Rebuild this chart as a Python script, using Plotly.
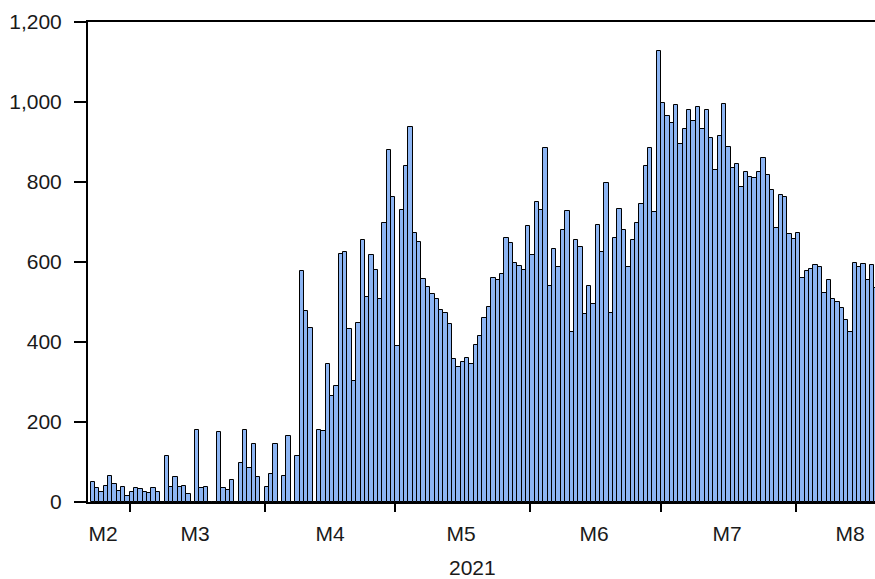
import pandas as pd
import plotly.graph_objects as go

# ---- data: daily values, starting 2021-02-20 ----
start_date = "2021-02-20"
values = [
    51, 36, 24, 41, 65, 46, 27, 38, 15,            # Feb 20-28
    24, 34, 32, 25, 22, 34, 24, 0, 115, 38,        # Mar 1-10
    62, 38, 41, 21, 0, 181, 36, 38, 0, 0,          # Mar 11-20
    174, 36, 29, 56, 0, 97, 179, 86, 146, 63, 0,   # Mar 21-31
    38, 69, 144, 0, 65, 165, 0, 114, 577, 477,     # Apr 1-10
    434, 0, 181, 178, 344, 264, 291, 619, 624, 432,  # Apr 11-20
    303, 447, 654, 512, 617, 579, 507, 698, 879, 762,  # Apr 21-30
    389, 729, 840, 938, 672, 650, 557, 538, 520, 507,  # May 1-10
    479, 472, 445, 358, 337, 351, 360, 345, 393, 414,  # May 11-20
    460, 488, 559, 554, 570, 660, 648, 598, 590, 579, 690,  # May 21-31
    617, 751, 730, 885, 540, 632, 588, 679, 728, 426,  # Jun 1-10
    655, 638, 470, 541, 495, 693, 624, 798, 472, 659,  # Jun 11-20
    733, 679, 587, 655, 698, 745, 839, 884, 724, 1128,  # Jun 21-30
    997, 966, 947, 992, 895, 933, 980, 953, 987, 933,  # Jul 1-10
    980, 910, 829, 915, 995, 887, 836, 845, 788, 824,  # Jul 11-20
    812, 810, 824, 860, 818, 779, 684, 767, 763, 669, 657,  # Jul 21-31
    672, 559, 577, 583, 592, 588, 522, 555, 507, 501,  # Aug 1-10
    486, 455, 424, 597, 588, 594, 555, 593, 534,       # Aug 11-19
]
month_labels = ["M2", "M3", "M4", "M5", "M6", "M7", "M8"]
y_ticks = [0, 200, 400, 600, 800, 1000, 1200]
axis_title = "2021"

# ---- layout helpers ----
dates = pd.date_range(start_date, periods=len(values), freq="D")
x_mid = dates + pd.Timedelta(hours=12)
day0 = pd.Timestamp(start_date)
PX_PER_DAY = 4.355
PLOT_LEFT = 88
FIRST_BAR_PX = 90.5


def px_to_date(px):
    return day0 + pd.Timedelta(days=(px - FIRST_BAR_PX) / PX_PER_DAY)


x_left = px_to_date(PLOT_LEFT)
x_right = px_to_date(875)

boundaries = pd.date_range("2021-03-01", "2021-08-01", freq="MS")
label_px = [103, 195, 330, 461, 594, 727, 850]
label_pos = [px_to_date(p) for p in label_px]

font = dict(family="Liberation Sans, Arial, sans-serif", size=21, color="#1a1a1a")

fig = go.Figure(
    go.Bar(
        x=x_mid,
        y=values,
        width=86400000,
        marker=dict(color="rgb(141,181,243)", line=dict(color="black", width=1)),
        showlegend=False,
    )
)

fig.update_layout(
    width=875,
    height=579,
    margin=dict(l=88, r=0, t=22, b=77, autoexpand=False),
    paper_bgcolor="white",
    plot_bgcolor="white",
    bargap=0,
    font=font,
    xaxis=dict(
        type="date",
        range=[x_left, x_right],
        automargin=False,
        tickmode="array",
        tickvals=label_pos,
        ticktext=month_labels,
        ticks="",
        ticklabelstandoff=12,
        showline=True,
        linecolor="black",
        linewidth=2,
        mirror=True,
        showgrid=False,
        zeroline=False,
        minor=dict(
            tickmode="array",
            tickvals=list(boundaries),
            ticks="outside",
            ticklen=8,
            tickwidth=1.5,
            tickcolor="black",
            showgrid=False,
        ),
    ),
    yaxis=dict(
        range=[0, 1200],
        automargin=False,
        tickmode="array",
        tickvals=y_ticks,
        tickformat=",",
        ticks="outside",
        ticklen=12,
        tickwidth=1.5,
        tickcolor="black",
        ticklabelstandoff=8,
        showline=True,
        linecolor="black",
        linewidth=2,
        showgrid=False,
        zeroline=False,
    ),
    annotations=[
        dict(
            text=axis_title,
            xref="paper",
            yref="paper",
            x=(472 - 88) / 787,
            y=-(567 - 502) / 480,
            xanchor="center",
            yanchor="middle",
            showarrow=False,
            font=font,
        )
    ],
)

fig.write_html(
    "out.html",
    config={"displayModeBar": False},
    post_script="document.body.style.margin='0';document.body.style.overflow='hidden';",
)
